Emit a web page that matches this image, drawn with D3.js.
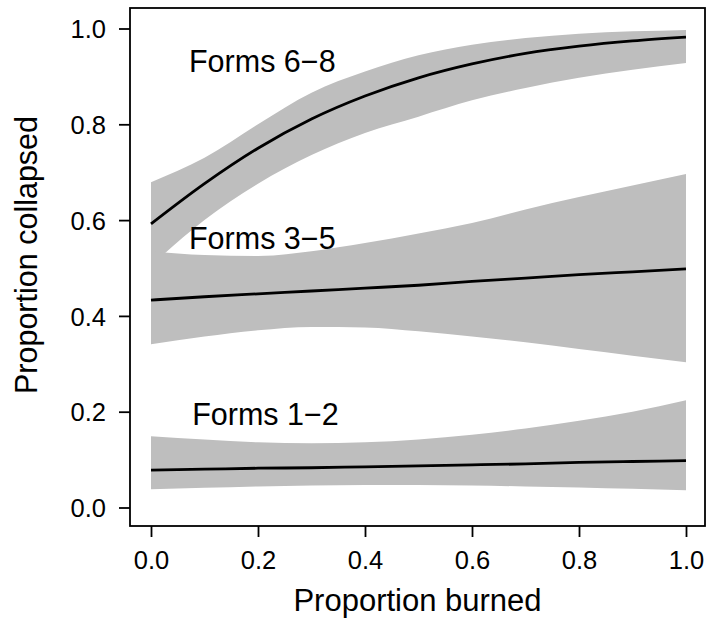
<!DOCTYPE html>
<html>
<head>
<meta charset="utf-8">
<script src="https://cdn.jsdelivr.net/npm/d3@7"></script>
<style>
  html, body { margin: 0; padding: 0; background: #fff; }
  svg { display: block; }
  text { font-family: "Liberation Sans", Arial, Helvetica, sans-serif; fill: #000; }
</style>
</head>
<body>
<svg id="chart" width="707" height="619"></svg>
<script>
// ---- data ----
const burned = [0.0, 0.1, 0.2, 0.3, 0.4, 0.5, 0.6, 0.7, 0.8, 0.9, 1.0];

const forms68Fit = [0.592, 0.676, 0.750, 0.811, 0.859, 0.897, 0.926, 0.948, 0.963, 0.974, 0.982];
const forms68Lo  = [0.505, 0.600, 0.676, 0.736, 0.782, 0.816, 0.850, 0.876, 0.897, 0.914, 0.928];
const forms68Hi  = [0.679, 0.730, 0.800, 0.866, 0.910, 0.944, 0.966, 0.980, 0.989, 0.994, 0.997];

const forms35Fit = [0.433, 0.440, 0.446, 0.452, 0.458, 0.464, 0.472, 0.479, 0.486, 0.492, 0.498];
const forms35Lo  = [0.341, 0.357, 0.370, 0.377, 0.376, 0.368, 0.357, 0.345, 0.331, 0.317, 0.303];
const forms35Hi  = [0.535, 0.527, 0.525, 0.535, 0.552, 0.572, 0.594, 0.622, 0.648, 0.672, 0.696];

const forms12Fit = [0.078, 0.080, 0.082, 0.083, 0.085, 0.087, 0.089, 0.091, 0.094, 0.096, 0.098];
const forms12Lo  = [0.038, 0.041, 0.044, 0.046, 0.047, 0.047, 0.046, 0.044, 0.042, 0.039, 0.036];
const forms12Hi  = [0.149, 0.142, 0.136, 0.134, 0.136, 0.142, 0.152, 0.165, 0.181, 0.200, 0.224];

const groupLabels = ["Forms 6\u22128", "Forms 3\u22125", "Forms 1\u22122"];

const xTicks = [0.0, 0.2, 0.4, 0.6, 0.8, 1.0];
const yTicks = [0.0, 0.2, 0.4, 0.6, 0.8, 1.0];
const xTickLabels = ["0.0", "0.2", "0.4", "0.6", "0.8", "1.0"];
const yTickLabels = ["0.0", "0.2", "0.4", "0.6", "0.8", "1.0"];

const xTitle = "Proportion burned";
const yTitle = "Proportion collapsed";

// ---- layout ----
const svg = d3.select("#chart");
const box = { left: 130, right: 705, top: 8, bottom: 526 };

const x = d3.scaleLinear().domain([0, 1]).range([151, 686]);
const y = d3.scaleLinear().domain([0, 1]).range([507.5, 28.5]);

const groups = [
  { fit: forms68Fit, lo: forms68Lo, hi: forms68Hi, label: groupLabels[0], lx: 0.071, ly: 0.910 },
  { fit: forms35Fit, lo: forms35Lo, hi: forms35Hi, label: groupLabels[1], lx: 0.071, ly: 0.539 },
  { fit: forms12Fit, lo: forms12Lo, hi: forms12Hi, label: groupLabels[2], lx: 0.077, ly: 0.172 }
];

const area = d3.area()
  .x(d => x(d.x))
  .y0(d => y(d.lo))
  .y1(d => y(d.hi))
  .curve(d3.curveMonotoneX);

const line = d3.line()
  .x(d => x(d.x))
  .y(d => y(d.v))
  .curve(d3.curveMonotoneX);

// bands
groups.forEach(g => {
  const pts = burned.map((b, i) => ({ x: b, lo: g.lo[i], hi: g.hi[i] }));
  svg.append("path")
    .attr("d", area(pts))
    .attr("fill", "#bebebe")
    .attr("stroke", "none");
});

// fitted lines
groups.forEach(g => {
  const pts = burned.map((b, i) => ({ x: b, v: g.fit[i] }));
  svg.append("path")
    .attr("d", line(pts))
    .attr("fill", "none")
    .attr("stroke", "#000")
    .attr("stroke-width", 2.8);
});

// labels
groups.forEach(g => {
  svg.append("text")
    .attr("x", x(g.lx))
    .attr("y", y(g.ly))
    .attr("font-size", "30.5px")
    .text(g.label);
});

// box
svg.append("rect")
  .attr("x", box.left)
  .attr("y", box.top)
  .attr("width", box.right - box.left)
  .attr("height", box.bottom - box.top)
  .attr("fill", "none")
  .attr("stroke", "#000")
  .attr("stroke-width", 1.8);

// axes
const xAxis = d3.axisBottom(x)
  .tickValues(xTicks)
  .tickFormat((d, i) => xTickLabels[i])
  .tickSize(11)
  .tickPadding(14);

const yAxis = d3.axisLeft(y)
  .tickValues(yTicks)
  .tickFormat((d, i) => yTickLabels[i])
  .tickSize(11)
  .tickPadding(13);

const gx = svg.append("g").attr("transform", `translate(0,${box.bottom})`).call(xAxis);
const gy = svg.append("g").attr("transform", `translate(${box.left},0)`).call(yAxis);

[gx, gy].forEach(g => {
  g.select(".domain").remove();
  g.selectAll(".tick line").attr("stroke", "#000").attr("stroke-width", 1.8);
  g.selectAll(".tick text")
    .attr("font-size", "25.5px")
    .attr("font-family", "\"Liberation Sans\", Arial, Helvetica, sans-serif")
    .attr("fill", "#000");
});
gy.selectAll(".tick text").attr("dy", "0.36em");

// axis titles
svg.append("text")
  .attr("x", (box.left + box.right) / 2)
  .attr("y", 611)
  .attr("text-anchor", "middle")
  .attr("font-size", "31px")
  .text(xTitle);

svg.append("text")
  .attr("transform", `translate(37,${(box.top + box.bottom) / 2 - 12}) rotate(-90)`)
  .attr("text-anchor", "middle")
  .attr("font-size", "30.5px")
  .text(yTitle);
</script>
</body>
</html>
